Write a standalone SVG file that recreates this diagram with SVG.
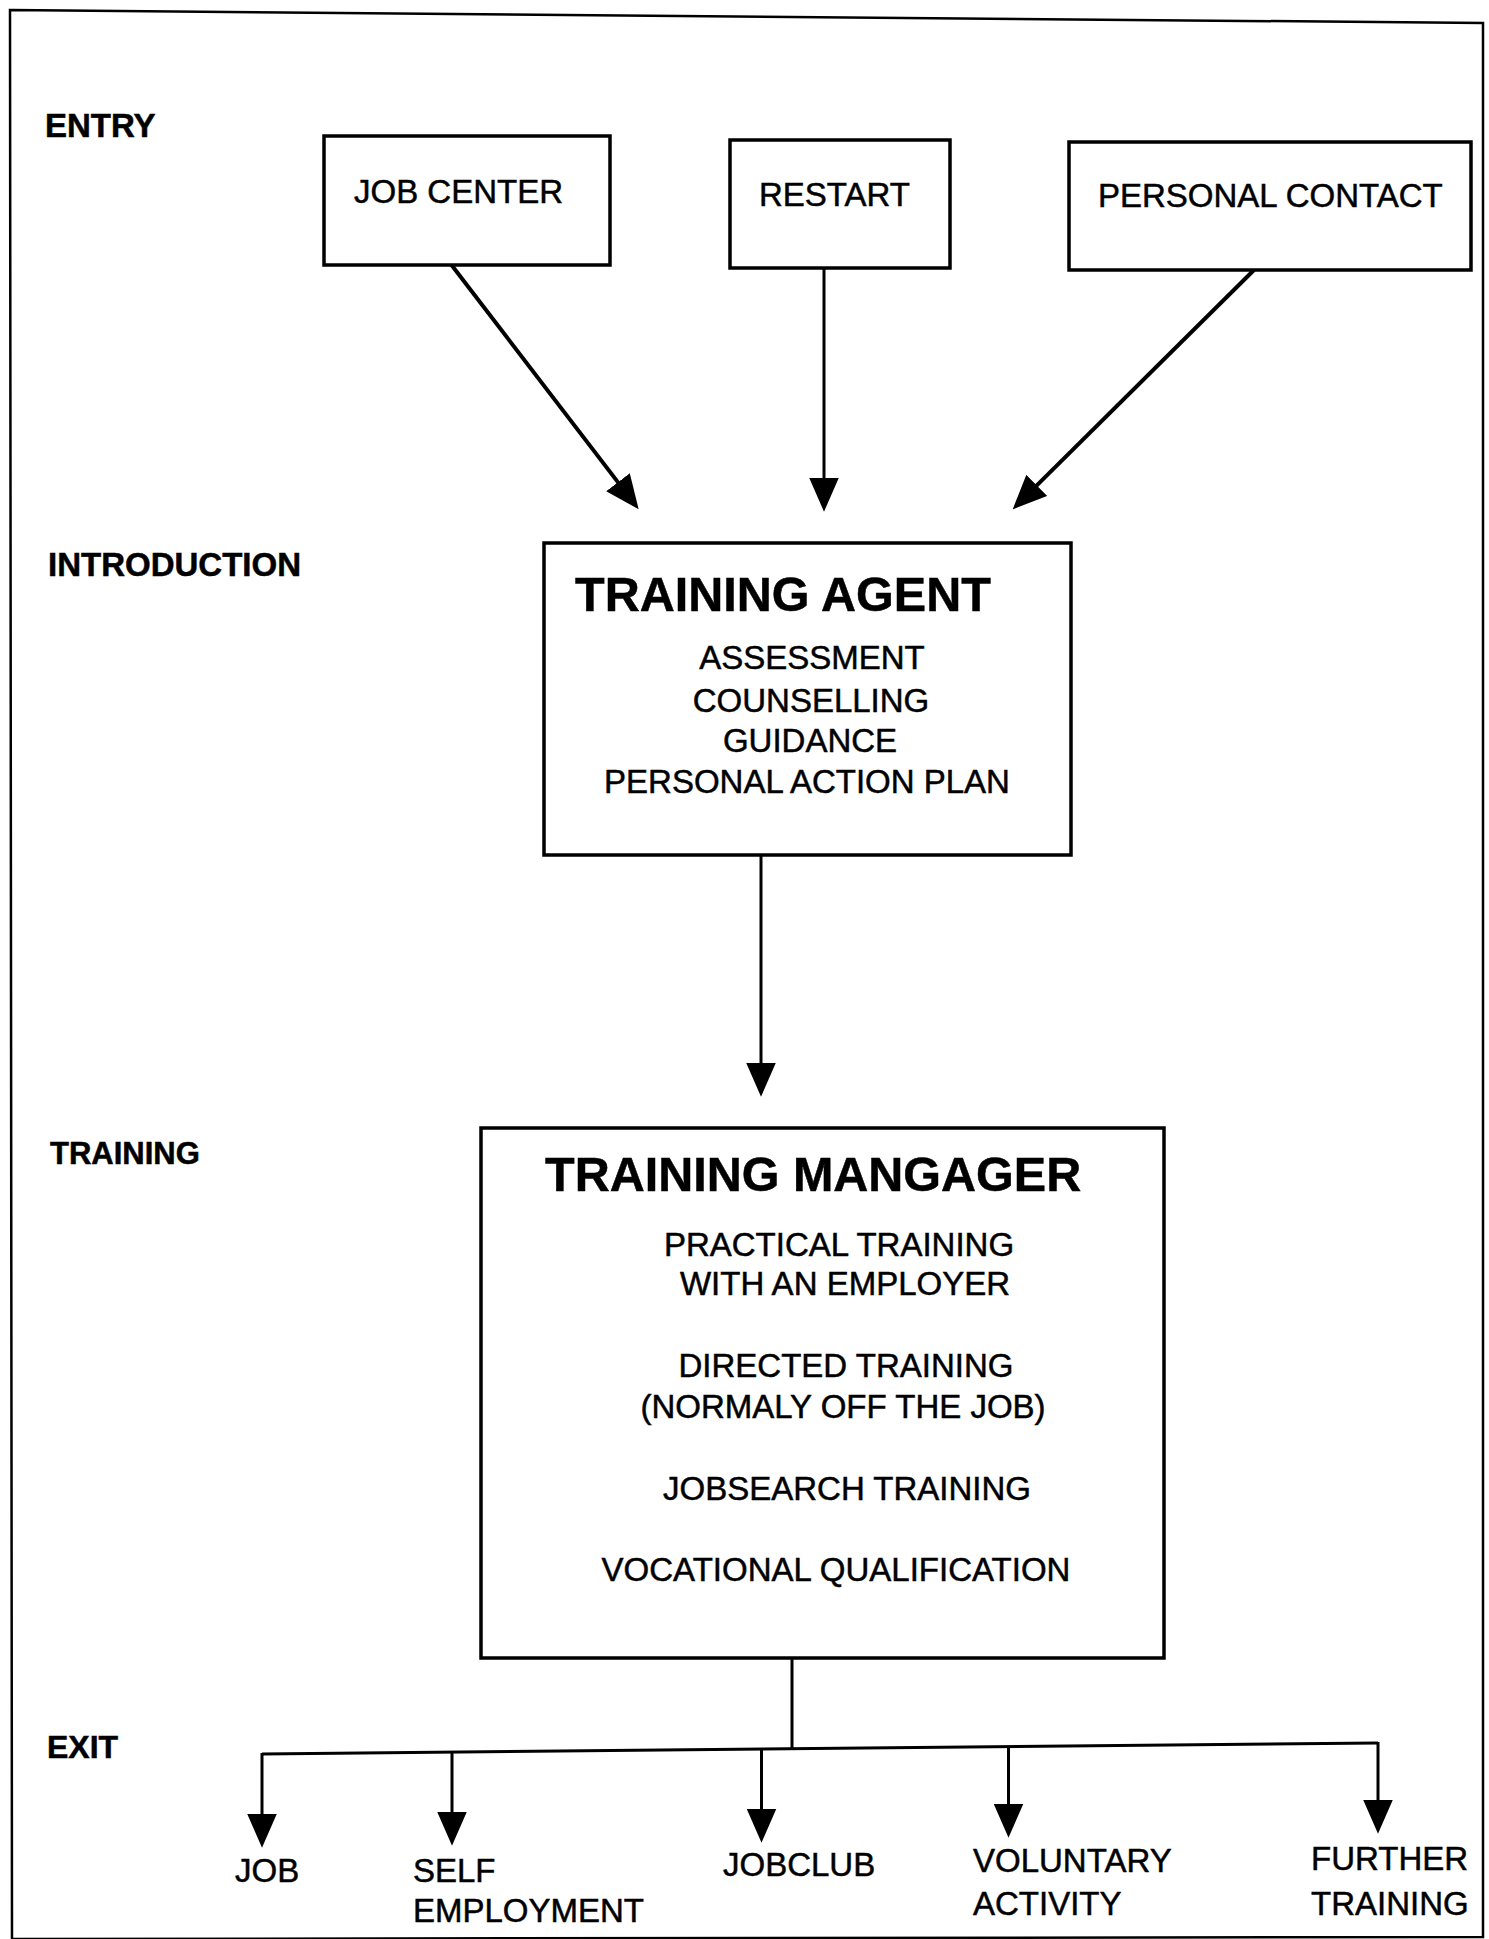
<svg xmlns="http://www.w3.org/2000/svg" width="1489" height="1939" viewBox="0 0 1489 1939">
<style>
text{font-family:"Liberation Sans",Arial,sans-serif;fill:#000;stroke:#000;stroke-width:0.5}
.t{font-size:33px}
.c{font-size:33px;text-anchor:middle}
.h{font-size:48.5px;font-weight:bold}
.s{font-size:32px;font-weight:bold}
.box{fill:#fff;stroke:#000;stroke-width:3.5}
.ln{fill:none;stroke:#000;stroke-width:4}
.lv{fill:none;stroke:#000;stroke-width:3}
</style>
<defs>
<marker id="ah" markerUnits="userSpaceOnUse" markerWidth="34" markerHeight="30" refX="20" refY="14" orient="auto" viewBox="0 0 32 28">
<path d="M0,0 L32,14 L0,28 z" fill="#000"/>
</marker>
</defs>
<rect width="1489" height="1939" fill="#fff"/>
<path d="M10,10 L1483,23 L1483,1937 L12,1939 Z" fill="none" stroke="#000" stroke-width="2.5"/>

<g id="labels">
<text class="s" x="45" y="137" style="font-size:33px">ENTRY</text>
<text class="s" x="48" y="576" style="font-size:33px">INTRODUCTION</text>
<text class="s" x="50" y="1164" style="font-size:31px">TRAINING</text>
<text class="s" x="47" y="1758">EXIT</text>
</g>

<g id="connectors">
<line class="ln" x1="450" y1="263" x2="630.9" y2="499.1" marker-end="url(#ah)"/>
<line class="lv" x1="824" y1="268" x2="824" y2="499" marker-end="url(#ah)"/>
<line class="ln" x1="1254" y1="270" x2="1021.7" y2="500.4" marker-end="url(#ah)"/>
<line class="lv" x1="761" y1="856" x2="761" y2="1084" marker-end="url(#ah)"/>
<line class="lv" x1="792" y1="1658" x2="792" y2="1749"/>
<path class="lv" d="M262,1754 L1378,1743"/>
<line class="lv" x1="262" y1="1753" x2="262" y2="1835" marker-end="url(#ah)"/>
<line class="lv" x1="452" y1="1752" x2="452" y2="1833" marker-end="url(#ah)"/>
<line class="lv" x1="761.5" y1="1749" x2="761.5" y2="1830" marker-end="url(#ah)"/>
<line class="lv" x1="1008.5" y1="1746.6" x2="1008.5" y2="1825" marker-end="url(#ah)"/>
<line class="lv" x1="1378" y1="1742" x2="1378" y2="1821" marker-end="url(#ah)"/>
</g>

<g id="job-center">
<rect class="box" x="324" y="136" width="286" height="129"/>
<text class="t" x="354" y="203">JOB CENTER</text>
</g>
<g id="restart">
<rect class="box" x="730" y="140" width="220" height="128"/>
<text class="t" x="759" y="206">RESTART</text>
</g>
<g id="personal-contact">
<rect class="box" x="1069" y="142" width="402" height="128"/>
<text class="t" x="1098" y="207">PERSONAL CONTACT</text>
</g>

<g id="training-agent">
<rect class="box" x="544" y="543" width="527" height="312"/>
<text class="h" x="575" y="611">TRAINING AGENT</text>
<text class="c" x="812" y="669">ASSESSMENT</text>
<text class="c" x="811" y="712">COUNSELLING</text>
<text class="c" x="810" y="752">GUIDANCE</text>
<text class="c" x="807" y="793">PERSONAL ACTION PLAN</text>
</g>

<g id="training-manager">
<rect class="box" x="481" y="1128" width="683" height="530"/>
<text class="h" x="545" y="1191">TRAINING MANGAGER</text>
<text class="c" x="839" y="1256">PRACTICAL TRAINING</text>
<text class="c" x="845" y="1295">WITH AN EMPLOYER</text>
<text class="c" x="846" y="1377">DIRECTED TRAINING</text>
<text class="c" x="843" y="1418">(NORMALY OFF THE JOB)</text>
<text class="c" x="847" y="1500">JOBSEARCH TRAINING</text>
<text class="c" x="836" y="1581">VOCATIONAL QUALIFICATION</text>
</g>

<g id="exit-job"><text class="t" x="235" y="1882">JOB</text></g>
<g id="exit-self"><text class="t" x="413" y="1882">SELF</text><text class="t" x="413" y="1922">EMPLOYMENT</text></g>
<g id="exit-jobclub"><text class="t" x="723" y="1876">JOBCLUB</text></g>
<g id="exit-voluntary"><text class="t" x="973" y="1872">VOLUNTARY</text><text class="t" x="973" y="1915">ACTIVITY</text></g>
<g id="exit-further"><text class="t" x="1311" y="1870">FURTHER</text><text class="t" x="1311" y="1915">TRAINING</text></g>
</svg>
